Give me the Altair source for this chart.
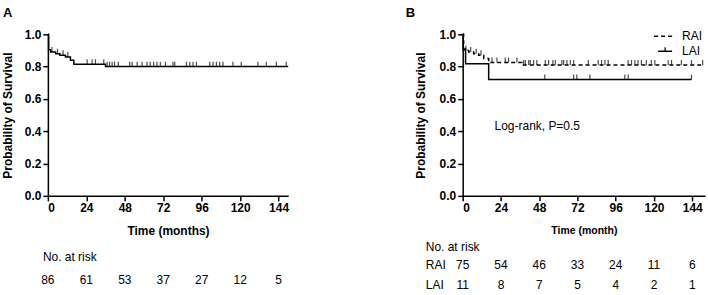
import altair as alt
import numpy as np
import pandas as pd

# ---------------- data ----------------
# Panel A: overall Kaplan-Meier curve
a_times = [0, 0.5, 1.7, 4.8, 7.5, 11.0, 14.1, 16.2, 36.0, 150.0]
a_surv = [1.0, 0.905, 0.89, 0.88, 0.87, 0.86, 0.84, 0.815, 0.80, 0.80]
a_censor = [2.5, 6.0, 9.5, 12.5, 24.5, 27.6, 29.7, 34.9, 37.0, 38.5, 40.1, 41.6, 44.0,
            51.1, 52.6, 55.7, 58.8, 61.9, 63.9, 66.0, 68.1, 70.2, 73.4, 78.1, 79.2,
            86.5, 88.6, 90.6, 92.7, 101.0, 103.1, 105.2, 107.2, 109.3, 115.5, 120.7,
            131.1, 136.3, 142.6, 148.8]

# Panel B: RAI vs LAI
rai_times = [0, 0.6, 3.8, 6.9, 10.0, 13.2, 16.3, 37.2, 151.5]
rai_surv = [1.0, 0.90, 0.89, 0.88, 0.87, 0.85, 0.825, 0.81, 0.81]
rai_censor = [2.0, 5.0, 8.5, 11.5, 18.4, 21.5, 26.7, 28.8, 34.0, 38.2, 39.3, 41.4, 42.4,
              44.5, 46.5, 51.8, 53.9, 56.6, 58.1, 62.2, 63.3, 65.4, 67.5, 69.6, 78.8,
              85.0, 87.1, 89.2, 91.3, 103.8, 105.9, 108.0, 110.0, 112.1, 115.2, 118.3,
              120.5, 128.9, 131.0, 137.2, 143.5, 150.5]
lai_times = [0, 0.3, 1.8, 16.3, 143.5]
lai_surv = [1.0, 0.909, 0.818, 0.72, 0.72]
lai_censor = [51.5, 69.6, 71.6, 79.8, 101.7, 103.8, 143.5]

# Numbers at risk
risk_times = [0, 24, 48, 72, 96, 120, 144]
risk_all = [86, 61, 53, 37, 27, 12, 5]
risk_rai = [75, 54, 46, 33, 24, 11, 6]
risk_lai = [11, 8, 7, 5, 4, 2, 1]

annot_text = ["Log-rank, P=0.5"]
annot_t = [20]
annot_s = [0.43]

y_ticks = [0, 0.2, 0.4, 0.6, 0.8, 1.0]

FONT = "Liberation Sans"
H = 162
WA = 241
WB = 243


def step_at(times, surv, ts):
    times = np.asarray(times)
    surv = np.asarray(surv)
    idx = np.searchsorted(times, np.asarray(ts), side="right") - 1
    return surv[idx]


def curve_df(times, surv):
    return pd.DataFrame({"t": times, "s": surv})


def censor_df(times, surv, ct):
    return pd.DataFrame({"t": ct, "s": step_at(times, surv, ct)})


def x_axis(title, size, weight):
    return alt.Axis(values=risk_times, title=title, grid=False, tickSize=5,
                    tickWidth=1.5, domainWidth=1.5, domainColor="black",
                    tickColor="black", labelColor="black", labelFontSize=12,
                    labelFontWeight="bold", labelPadding=2, labelOverlap=False,
                    titleFontSize=size, titleFontWeight=weight, titleColor="black",
                    titleY=35, titleBaseline="middle")


def y_axis(tx):
    return alt.Axis(values=y_ticks, format=".1f", tickCount=6,
                    title="Probability of Survival", grid=False, tickSize=5,
                    tickWidth=1.5, domainWidth=1.5, domainColor="black",
                    tickColor="black", labelColor="black", labelFontSize=12,
                    labelFontWeight="bold", labelPadding=2, labelOverlap=False,
                    labelBound=False, titleFontSize=12,
                    titleFontWeight="bold", titleColor="black", titleX=tx,
                    titleY=H / 2, titleAngle=270, titleAlign="center",
                    titleBaseline="middle")


ys = alt.Scale(domain=[0, 1], nice=False, zero=True)


def panel(xmax, width, xtitle, xsize, xweight, ytx, curves, censors, risk_rows,
          label, label_x, risk_label_x, risk_label_y, extra=None):
    xs = alt.Scale(domain=[0, xmax], nice=False, zero=True)
    xa = x_axis(xtitle, xsize, xweight)
    ya = y_axis(ytx)
    X = lambda: alt.X("t:Q", scale=xs, axis=xa)
    Y = lambda: alt.Y("s:Q", scale=ys, axis=ya)
    layers = []
    for df, dash in curves:
        kw = dict(interpolate="step-after", color="black", strokeWidth=1.5)
        if dash:
            kw["strokeDash"] = [4, 3]
        layers.append(alt.Chart(df).mark_line(**kw).encode(x=X(), y=Y()))
    for cdf in censors:
        layers.append(
            alt.Chart(cdf).mark_tick(orient="vertical", color="black", size=5,
                                     thickness=1.2, yOffset=-2.5)
            .encode(x=X(), y=Y()))
    for name, vals, ypx in risk_rows:
        rdf = pd.DataFrame({"t": risk_times, "n": [str(v) for v in vals]})
        layers.append(
            alt.Chart(rdf).mark_text(font=FONT, fontSize=12, color="black",
                                     align="center", baseline="middle")
            .encode(x=X(), y=alt.value(ypx), text="n:N"))
        if name:
            layers.append(
                alt.Chart(pd.DataFrame({"l": [name]})).mark_text(
                    font=FONT, fontSize=12, color="black", align="left",
                    baseline="middle")
                .encode(x=alt.value(-37), y=alt.value(ypx), text="l:N"))
    layers.append(
        alt.Chart(pd.DataFrame({"l": ["No. at risk"]})).mark_text(
            font=FONT, fontSize=12, color="black", align="left", baseline="middle")
        .encode(x=alt.value(risk_label_x), y=alt.value(risk_label_y), text="l:N"))
    layers.append(
        alt.Chart(pd.DataFrame({"l": [label]})).mark_text(
            font=FONT, fontSize=13, fontWeight="bold", color="black",
            align="left", baseline="middle")
        .encode(x=alt.value(label_x), y=alt.value(-21.5), text="l:N"))
    if extra:
        layers.extend(extra(X, Y))
    return alt.layer(*layers).properties(width=width, height=H)


# Panel A
chartA = panel(
    150, WA, "Time (months)", 12, "bold", -40,
    [(curve_df(a_times, a_surv), False)],
    [censor_df(a_times, a_surv, a_censor)],
    [(None, risk_all, H + 84)],
    "A", -45, -5, H + 61,
)


def extras_b(X, Y):
    ann = alt.Chart(pd.DataFrame({"t": annot_t, "s": annot_s, "l": annot_text})).mark_text(
        font=FONT, fontSize=12, color="black", align="left", baseline="middle"
    ).encode(x=X(), y=Y(), text="l:N")
    leg_text = alt.Chart(pd.DataFrame({"l": ["RAI"]})).mark_text(
        font=FONT, fontSize=12, color="black", align="left", baseline="middle"
    ).encode(x=alt.value(220), y=alt.value(2), text="l:N")
    leg_text2 = alt.Chart(pd.DataFrame({"l": ["LAI"]})).mark_text(
        font=FONT, fontSize=12, color="black", align="left", baseline="middle"
    ).encode(x=alt.value(220), y=alt.value(17), text="l:N")
    leg_rai = alt.Chart(pd.DataFrame({"k": ["RAI"]})).mark_rule(
        color="black", strokeWidth=1.5, strokeDash=[4, 3]
    ).encode(x=alt.value(192), x2=alt.value(210), y=alt.value(2))
    leg_lai = alt.Chart(pd.DataFrame({"k": ["LAI"]})).mark_rule(
        color="black", strokeWidth=1.5
    ).encode(x=alt.value(196), x2=alt.value(210), y=alt.value(17))
    leg_lai_tick = alt.Chart(pd.DataFrame({"k": ["LAI"]})).mark_rule(
        color="black", strokeWidth=1.2
    ).encode(x=alt.value(203), y=alt.value(13), y2=alt.value(17))
    return [ann, leg_rai, leg_lai, leg_lai_tick, leg_text, leg_text2]


chartB = panel(
    152, WB, "Time (month)", 10.5, "bold", -42,
    [(curve_df(rai_times, rai_surv), True), (curve_df(lai_times, lai_surv), False)],
    [censor_df(rai_times, rai_surv, rai_censor), censor_df(lai_times, lai_surv, lai_censor)],
    [("RAI", risk_rai, H + 69), ("LAI", risk_lai, H + 89)],
    "B", -57, -37, H + 51,
    extra=extras_b,
)

chart = alt.hconcat(chartA, chartB, spacing=464 - 48 - WA, bounds="flush").properties(
    padding={"left": 2, "top": 6, "right": 0, "bottom": 0}
).configure(font=FONT).configure_view(stroke=None).configure_axisY(labelOverlap=False)

chart.save("out.html", embed_options={"renderer": "svg", "actions": False})
